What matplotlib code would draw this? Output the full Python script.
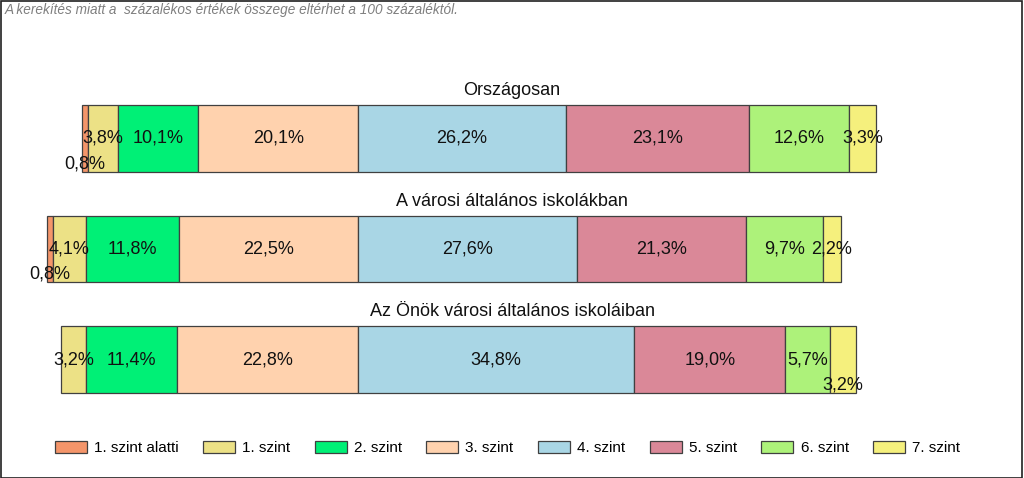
"""
Diverging stacked bars of proficiency levels (szint), aligned on the 3./4. level border.
"""
import matplotlib
matplotlib.use("Agg")
import matplotlib.pyplot as plt
from matplotlib.patches import Rectangle, Patch
import numpy as np

plt.rcParams["font.family"] = ["Liberation Sans", "DejaVu Sans"]

# ── Data ────────────────────────────────────────────────────────────────────
levels = ["1. szint alatti", "1. szint", "2. szint", "3. szint",
          "4. szint", "5. szint", "6. szint", "7. szint"]
groups = ["Országosan", "A városi általános iskolákban",
          "Az Önök városi általános iskoláiban"]
orszagos = [0.8, 3.8, 10.1, 20.1, 26.2, 23.1, 12.6, 3.3]
varosi   = [0.8, 4.1, 11.8, 22.5, 27.6, 21.3, 9.7, 2.2]
onok     = [0.0, 3.2, 11.4, 22.8, 34.8, 19.0, 5.7, 3.2]
note = "A kerekítés miatt a  százalékos értékek összege eltérhet a 100 százaléktól."

colors = ["#F4956A", "#ECE186", "#00F076", "#FFD2AE",
          "#A9D6E5", "#DA8898", "#ADF27A", "#F5F07D"]
EDGE = "#404040"
# labels pushed down so they do not collide with a neighbour
lowered = {(0, 0), (1, 0), (2, 7)}

values = [orszagos, varosi, onok]

fig = plt.figure(figsize=(10.24, 4.78), dpi=100)
ax = fig.add_axes([0, 0, 1, 1])
ax.set_xlim(-45.09, 83.88)
ax.set_ylim(3.072, -1.253)
ax.axis("off")

BAR_H = 0.606
for i, vals in enumerate(values):
    left = -sum(vals[:4])
    for j, v in enumerate(vals):
        if v > 0:
            ax.barh(i, v, left=left, height=BAR_H, color=colors[j],
                    edgecolor=EDGE, linewidth=0.9)
            dy = 0.23 if (i, j) in lowered else 0.0
            ax.text(left + v / 2, i + dy, f"{v:.1f}".replace(".", ",") + "%",
                    ha="center", va="center", fontsize=13, color="#111111")
        left += v
    ax.text(0.5, i - BAR_H / 2 - 0.13, groups[i], transform=ax.get_yaxis_transform(),
            ha="center", va="center", fontsize=13, color="#111111")

fig.text(5 / 1024, 1 - 10 / 478, note, ha="left", va="center",
         fontsize=9.8, style="italic", color="#7f7f7f")

handles = [Patch(facecolor=c, edgecolor=EDGE, linewidth=0.9) for c in colors]
fig.legend(handles, levels, loc="center", bbox_to_anchor=(0.4956, 1 - 448 / 478),
           ncol=8, frameon=False, fontsize=11, handlelength=2.1, handleheight=0.85,
           handletextpad=0.46, columnspacing=1.6, borderaxespad=0, borderpad=0)

fig.patches.append(Rectangle((0.0005, 0.001), 0.998, 0.997, transform=fig.transFigure,
                             fill=False, edgecolor="#202020", linewidth=1.2))

fig.savefig("out.png", dpi=100, facecolor="white")
